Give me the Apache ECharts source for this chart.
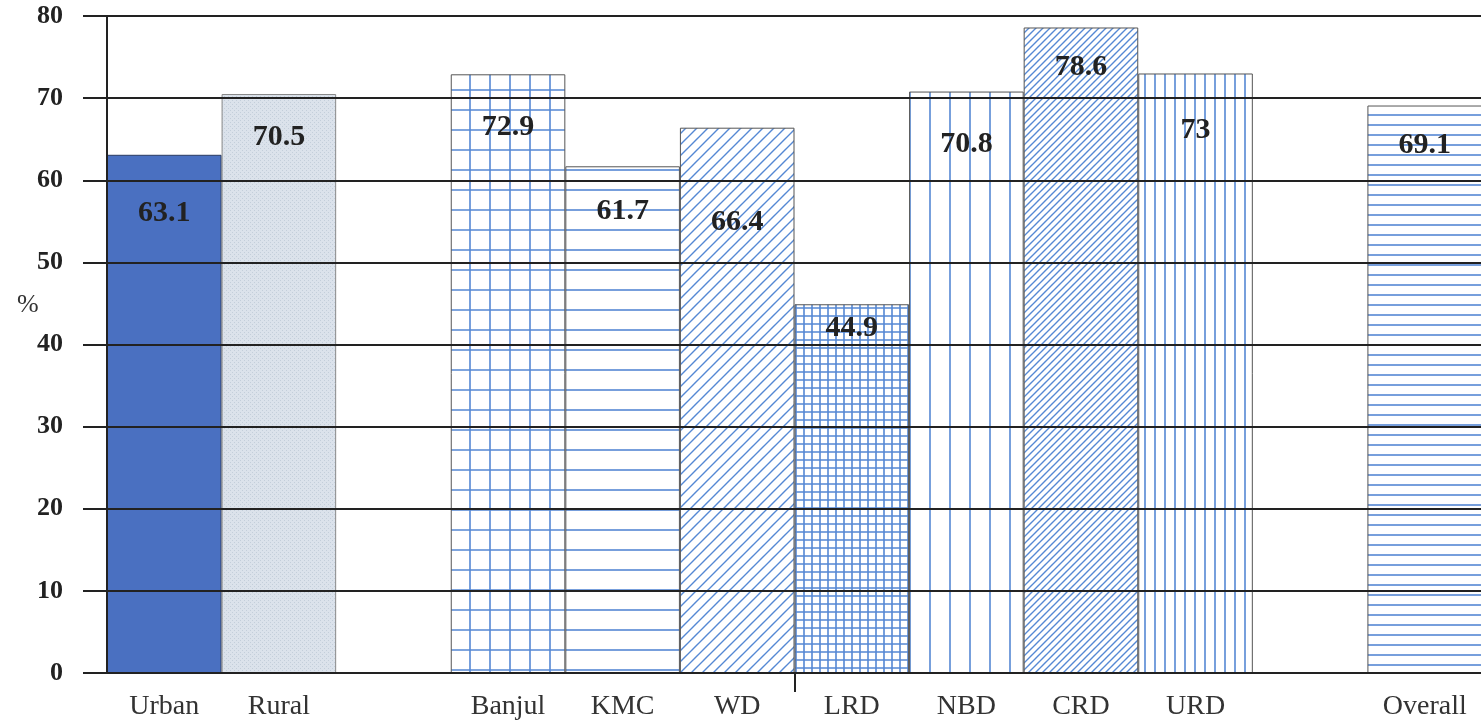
<!DOCTYPE html>
<html>
<head>
<meta charset="utf-8">
<script src="https://cdn.jsdelivr.net/npm/echarts@6/dist/echarts.min.js"></script>
<style>
  html, body { margin: 0; padding: 0; background: #fff; }
  #chart { width: 1481px; height: 722px; }
</style>
</head>
<body>
<div id="chart"></div>
<script>
// Share of respondents (%) by area of residence and by division
const categories = ['Urban', 'Rural', '', 'Banjul', 'KMC', 'WD', 'LRD', 'NBD', 'CRD', 'URD', '', 'Overall'];
const values = [63.1, 70.5, null, 72.9, 61.7, 66.4, 44.9, 70.8, 78.6, 73, null, 69.1];
const yTicks = [0, 10, 20, 30, 40, 50, 60, 70, 80];
// Divider between the western and the eastern divisions (band boundary before LRD)
const dividerAt = [6];

// Fill style of each bar
const fillKinds = ['solid', 'stipple', null, 'grid20', 'hlines20', 'diag11', 'grid8', 'vlines20', 'diag7', 'vlines10', null, 'hlines10'];
// Value label nudges: [dx, distance below bar top]
const labelNudge = [[-2, 58], [1, 43], null, [-3, 53], [0, 45], [-5, 95], [0, 24], [-2, 53], [4, 40], [1, 57], null, [-2, 40]];

const LINE = '#5588d4';
const SERIF = '"Liberation Serif", "DejaVu Serif", serif';

function tile(w, h, draw) {
  const c = document.createElement('canvas');
  c.width = w; c.height = h;
  const g = c.getContext('2d');
  g.fillStyle = '#ffffff';
  g.fillRect(0, 0, w, h);
  g.strokeStyle = LINE;
  g.lineWidth = 1.6;
  draw(g, w, h);
  return { image: c, repeat: 'repeat' };
}
function hl(s) { return tile(s, s, (g) => { g.beginPath(); g.moveTo(0, s / 2); g.lineTo(s, s / 2); g.stroke(); }); }
function vl(s) { return tile(s, s, (g) => { g.beginPath(); g.moveTo(s / 2, 0); g.lineTo(s / 2, s); g.stroke(); }); }
function grid(s) {
  return tile(s, s, (g) => {
    g.beginPath();
    g.moveTo(0, s / 2); g.lineTo(s, s / 2);
    g.moveTo(s / 2, 0); g.lineTo(s / 2, s);
    g.stroke();
  });
}
function diag(s) {
  return tile(s, s, (g) => {
    g.lineWidth = 1.4;
    g.beginPath();
    g.moveTo(-1, s + 1); g.lineTo(s + 1, -1);
    g.moveTo(-1, 1); g.lineTo(1, -1);
    g.moveTo(s - 1, s + 1); g.lineTo(s + 1, s - 1);
    g.stroke();
  });
}
function stipple() {
  const c = document.createElement('canvas');
  c.width = 4; c.height = 4;
  const g = c.getContext('2d');
  g.fillStyle = '#dbe2eb';
  g.fillRect(0, 0, 4, 4);
  g.fillStyle = '#c3ceda';
  g.fillRect(0, 0, 1, 1);
  g.fillRect(2, 2, 1, 1);
  return { image: c, repeat: 'repeat' };
}

const fills = {
  solid: '#4a70c1',
  stipple: stipple(),
  grid20: grid(20),
  hlines20: hl(20),
  diag11: diag(11),
  grid8: grid(8),
  vlines20: vl(20),
  diag7: diag(7),
  vlines10: vl(10),
  hlines10: hl(10)
};

const barData = values.map((v, i) => {
  if (v === null) return { value: null };
  const n = labelNudge[i];
  return {
    value: v,
    itemStyle: {
      color: fills[fillKinds[i]],
      borderColor: i === 0 ? '#2a3a60' : (i === 1 ? '#888' : '#555'),
      borderWidth: 1
    },
    label: { position: ['50%', n[1]], offset: [n[0], 0] }
  };
});

const chart = echarts.init(document.getElementById('chart'));
chart.setOption({
  animation: false,
  backgroundColor: '#ffffff',
  grid: { left: 107, right: -1, top: 16, bottom: 49, outerBoundsMode: 'none', containLabel: false },
  xAxis: [{
    type: 'category',
    data: categories,
    boundaryGap: true,
    axisLine: { show: true, lineStyle: { color: '#222', width: 2 } },
    axisTick: { show: false },
    axisLabel: {
      interval: 0,
      margin: 20,
      fontFamily: SERIF,
      fontSize: 28,
      color: '#333'
    }
  }, {
    // band-index scale used only for the divider tick below the axis
    type: 'value',
    position: 'bottom',
    min: 0,
    max: categories.length,
    axisLine: { show: false },
    splitLine: { show: false },
    axisLabel: { show: false },
    axisTick: {
      show: true,
      length: 19,
      customValues: dividerAt,
      lineStyle: { color: '#222', width: 2 }
    }
  }],
  yAxis: {
    type: 'value',
    min: 0,
    max: 80,
    interval: 10,
    z: 10,
    axisLine: { show: true, lineStyle: { color: '#222', width: 2 } },
    axisTick: { show: true, length: 24, lineStyle: { color: '#222', width: 2 } },
    splitLine: { show: true, lineStyle: { color: '#222', width: 2 } },
    axisLabel: {
      margin: 44,
      fontFamily: SERIF,
      fontWeight: 'bold',
      fontSize: 26,
      color: '#222',
      formatter: (v) => (yTicks.indexOf(v) >= 0 ? String(v) : '')
    }
  },
  graphic: [{
    type: 'text',
    left: 17,
    top: 292,
    style: { text: '%', font: '26px ' + SERIF, fill: '#333' }
  }],
  series: [{
    type: 'bar',
    xAxisIndex: 0,
    data: barData,
    barWidth: '100%',
    barGap: '0%',
    z: 2,
    label: {
      show: true,
      align: 'center',
      verticalAlign: 'middle',
      fontFamily: SERIF,
      fontWeight: 'bold',
      fontSize: 30,
      color: '#222',
      z: 20
    },
    labelLayout: { moveOverlap: false }
  }]
});
</script>
</body>
</html>
